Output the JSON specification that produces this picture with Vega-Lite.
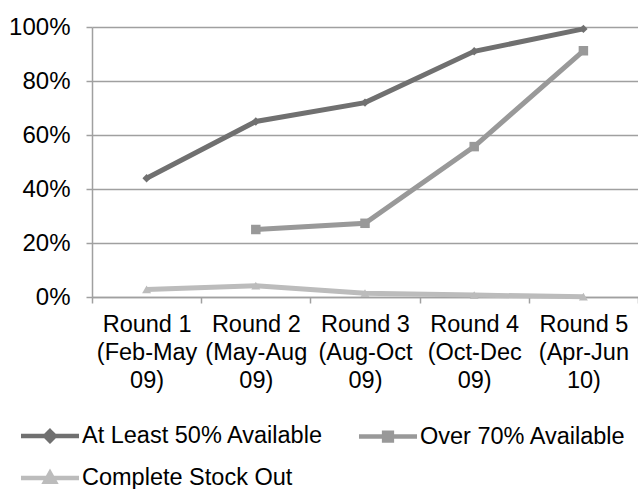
{
  "$schema": "https://vega.github.io/schema/vega-lite/v6.json",
  "width": 546,
  "height": 270,
  "autosize": "none",
  "padding": {"left": 92, "top": 27, "right": 0, "bottom": 192},
  "background": "white",
  "config": {
    "font": "Liberation Sans",
    "view": {"stroke": null},
    "axis": {
      "domainColor": "#a0a0a0",
      "domainWidth": 1.5,
      "tickColor": "#a0a0a0",
      "tickWidth": 1.5,
      "tickSize": 6,
      "gridColor": "#a0a0a0",
      "gridWidth": 1.5,
      "labelColor": "#000000",
      "labelFont": "Liberation Sans",
      "title": null
    }
  },
  "data": {
    "values": [
      {"round": "Round 1|(Feb-May|09)", "series": "At Least 50% Available", "value": 0.44},
      {"round": "Round 2|(May-Aug|09)", "series": "At Least 50% Available", "value": 0.65},
      {"round": "Round 3|(Aug-Oct|09)", "series": "At Least 50% Available", "value": 0.72},
      {"round": "Round 4|(Oct-Dec|09)", "series": "At Least 50% Available", "value": 0.91},
      {"round": "Round 5|(Apr-Jun|10)", "series": "At Least 50% Available", "value": 0.993},
      {"round": "Round 2|(May-Aug|09)", "series": "Over 70% Available", "value": 0.25},
      {"round": "Round 3|(Aug-Oct|09)", "series": "Over 70% Available", "value": 0.273},
      {"round": "Round 4|(Oct-Dec|09)", "series": "Over 70% Available", "value": 0.557},
      {"round": "Round 5|(Apr-Jun|10)", "series": "Over 70% Available", "value": 0.912},
      {"round": "Round 1|(Feb-May|09)", "series": "Complete Stock Out", "value": 0.028},
      {"round": "Round 2|(May-Aug|09)", "series": "Complete Stock Out", "value": 0.042},
      {"round": "Round 3|(Aug-Oct|09)", "series": "Complete Stock Out", "value": 0.014},
      {"round": "Round 4|(Oct-Dec|09)", "series": "Complete Stock Out", "value": 0.007},
      {"round": "Round 5|(Apr-Jun|10)", "series": "Complete Stock Out", "value": 0.001}
    ]
  },
  "encoding": {
    "x": {
      "field": "round",
      "type": "nominal",
      "sort": null,
      "bandPosition": 0.5,
      "scale": {"type": "band", "paddingInner": 0, "paddingOuter": 0},
      "axis": {
        "labelAngle": 0,
        "labelFontSize": 23.5,
        "labelPadding": 9,
        "labelLineHeight": 28,
        "labelBaseline": "top",
        "labelLimit": 200,
        "tickBand": "extent",
        "labelExpr": "split(datum.label, '|')",
        "grid": false
      }
    },
    "y": {
      "field": "value",
      "type": "quantitative",
      "scale": {"domain": [0, 1], "nice": false},
      "axis": {
        "values": [0, 0.2, 0.4, 0.6, 0.8, 1],
        "format": ".0%",
        "labelFontSize": 24,
        "labelPadding": 16,
        "grid": true
      }
    },
    "color": {
      "field": "series",
      "type": "nominal",
      "scale": {
        "domain": ["At Least 50% Available", "Over 70% Available", "Complete Stock Out"],
        "range": ["#707070", "#999999", "#bcbcbc"]
      },
      "legend": {
        "orient": "none",
        "legendX": -54,
        "legendY": 397,
        "direction": "horizontal",
        "columns": 2,
        "title": null,
        "padding": 0,
        "symbolSize": 374,
        "symbolStrokeWidth": 4.5,
        "symbolOpacity": 1,
        "labelFontSize": 23.5,
        "labelColor": "#000000",
        "labelOffset": 20,
        "columnPadding": 25,
        "rowPadding": 14,
        "labelLimit": 400
      }
    }
  },
  "layer": [
    {
      "mark": {"type": "line", "strokeWidth": 5}
    },
    {
      "mark": {"type": "point", "filled": true, "opacity": 0, "size": 10},
      "encoding": {
        "shape": {
          "field": "series",
          "type": "nominal",
          "scale": {
            "domain": ["At Least 50% Available", "Over 70% Available", "Complete Stock Out"],
            "range": [
              "M-3,0H3M0,-0.5L0.5,0L0,0.5L-0.5,0Z",
              "M-3,0H3M-0.4,-0.4H0.4V0.4H-0.4Z",
              "M-3,0H3M0,-0.5L0.5,0.4H-0.5Z"
            ]
          }
        }
      }
    },
    {
      "transform": [{"filter": "datum.series === 'At Least 50% Available'"}],
      "mark": {"type": "point", "filled": true, "size": 70, "opacity": 1, "shape": "diamond"}
    },
    {
      "transform": [{"filter": "datum.series === 'Over 70% Available'"}],
      "mark": {"type": "point", "filled": true, "size": 90, "opacity": 1, "shape": "square"}
    },
    {
      "transform": [{"filter": "datum.series === 'Complete Stock Out'"}],
      "mark": {"type": "point", "filled": true, "size": 80, "opacity": 1, "shape": "triangle-up"}
    }
  ]
}
